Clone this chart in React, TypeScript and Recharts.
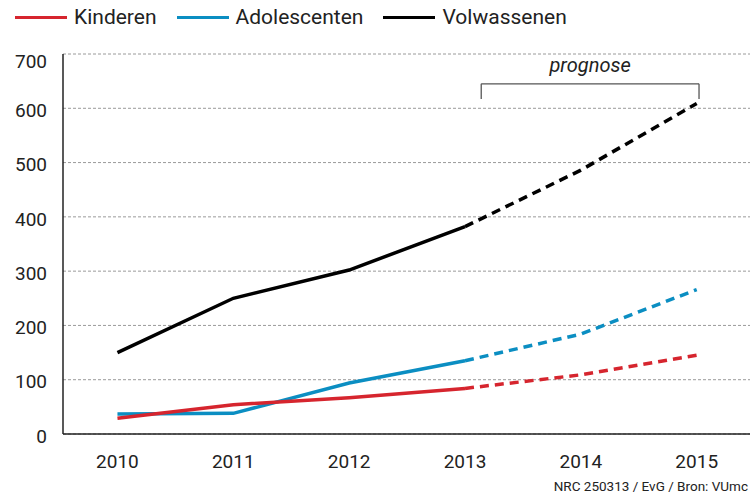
import { LineChart, Line, XAxis, YAxis, CartesianGrid, ReferenceLine, Label } from 'recharts';

// jaren op de x-as
const jaren = [2010, 2011, 2012, 2013, 2014, 2015];
// aantallen per groep (2014 en 2015 zijn prognose)
const kinderen = [29, 54, 67, 84, 109, 145];
const adolescenten = [37, 38, 94, 135, 184, 266];
const volwassenen = [150, 250, 302, 382, 486, 609];
// laatste jaar met gemeten cijfers
const laatsteMeting = 2013;
const yTicks = [0, 100, 200, 300, 400, 500, 600, 700];

const ROOD = '#d6252e';
const BLAUW = '#0b8ec2';
const ZWART = '#000000';
const FONT = 'Roboto, sans-serif';

// splits elke reeks in een gemeten (doorgetrokken) en een prognose (gestippeld) deel
const data = jaren.map((jaar, i) => ({
  jaar,
  kinderen: jaar <= laatsteMeting ? kinderen[i] : null,
  kinderenP: jaar >= laatsteMeting ? kinderen[i] : null,
  adolescenten: jaar <= laatsteMeting ? adolescenten[i] : null,
  adolescentenP: jaar >= laatsteMeting ? adolescenten[i] : null,
  volwassenen: jaar <= laatsteMeting ? volwassenen[i] : null,
  volwassenenP: jaar >= laatsteMeting ? volwassenen[i] : null,
}));

const legenda = [
  { naam: 'Kinderen', kleur: ROOD },
  { naam: 'Adolescenten', kleur: BLAUW },
  { naam: 'Volwassenen', kleur: ZWART },
];

// y-labels iets lager, de bovenste valt binnen het kader
function YTick(props: any) {
  const { x, y, payload } = props;
  const extra = payload.value === 700 ? 7 : 2;
  return (
    <text x={x} y={y + extra} dy="0.355em" textAnchor="end" fontSize={19} fill="#222" fontFamily={FONT}>
      {payload.value}
    </text>
  );
}

export default function App() {
  return (
    <div style={{ position: 'absolute', left: 0, top: 0, width: 750, height: 495, background: '#fff', fontFamily: FONT }}>
      {/* legenda bovenaan */}
      <div style={{ position: 'absolute', left: 15, top: 3, display: 'flex', alignItems: 'center', height: 28 }}>
        {legenda.map((l) => (
          <div key={l.naam} style={{ display: 'flex', alignItems: 'center', marginRight: 20 }}>
            <div style={{ width: 52, height: 3, background: l.kleur, marginRight: 7 }} />
            <span style={{ fontSize: 21, color: '#222' }}>{l.naam}</span>
          </div>
        ))}
      </div>

      <LineChart width={750} height={495} data={data} margin={{ top: 54, right: 0, left: 0, bottom: 0 }}>
        <CartesianGrid vertical={false} stroke="#9a9a9a" strokeDasharray="3 2" />
        <XAxis
          dataKey="jaar"
          type="number"
          domain={[2009.53, 2015.46]}
          ticks={jaren}
          height={61}
          tickLine={false}
          tickSize={0}
          tickMargin={21}
          axisLine={{ stroke: '#222', strokeWidth: 1.5 }}
          tick={{ fontSize: 19, fill: '#222', fontFamily: FONT }}
        />
        <YAxis
          domain={[0, 700]}
          ticks={yTicks}
          width={63}
          tickLine={false}
          tickSize={0}
          tickMargin={16}
          axisLine={{ stroke: '#222', strokeWidth: 1.5 }}
          tick={<YTick />}
        />

        {/* accolade voor de prognose */}
        <ReferenceLine segment={[{ x: 2013.14, y: 645 }, { x: 2015.02, y: 645 }]} stroke="#555" strokeWidth={1.3}>
          <Label value="prognose" position="top" offset={12} fontSize={20} fontStyle="italic" fill="#222" fontFamily={FONT} />
        </ReferenceLine>
        <ReferenceLine segment={[{ x: 2013.14, y: 645 }, { x: 2013.14, y: 617 }]} stroke="#555" strokeWidth={1.3} />
        <ReferenceLine segment={[{ x: 2015.02, y: 645 }, { x: 2015.02, y: 617 }]} stroke="#555" strokeWidth={1.3} />

        <Line dataKey="adolescenten" stroke={BLAUW} strokeWidth={3.5} dot={false} activeDot={false} isAnimationActive={false} />
        <Line dataKey="adolescentenP" stroke={BLAUW} strokeWidth={3.5} strokeDasharray="9 6" dot={false} activeDot={false} isAnimationActive={false} />
        <Line dataKey="kinderen" stroke={ROOD} strokeWidth={3.5} dot={false} activeDot={false} isAnimationActive={false} />
        <Line dataKey="kinderenP" stroke={ROOD} strokeWidth={3.5} strokeDasharray="9 6" dot={false} activeDot={false} isAnimationActive={false} />
        <Line dataKey="volwassenen" stroke={ZWART} strokeWidth={3.5} dot={false} activeDot={false} isAnimationActive={false} />
        <Line dataKey="volwassenenP" stroke={ZWART} strokeWidth={3.5} strokeDasharray="9 6" dot={false} activeDot={false} isAnimationActive={false} />
      </LineChart>

      {/* bronvermelding */}
      <div style={{ position: 'absolute', right: 2, top: 478, fontSize: 13.5, color: '#222', whiteSpace: 'nowrap' }}>
        NRC 250313 / EvG / Bron: VUmc
      </div>
    </div>
  );
}
